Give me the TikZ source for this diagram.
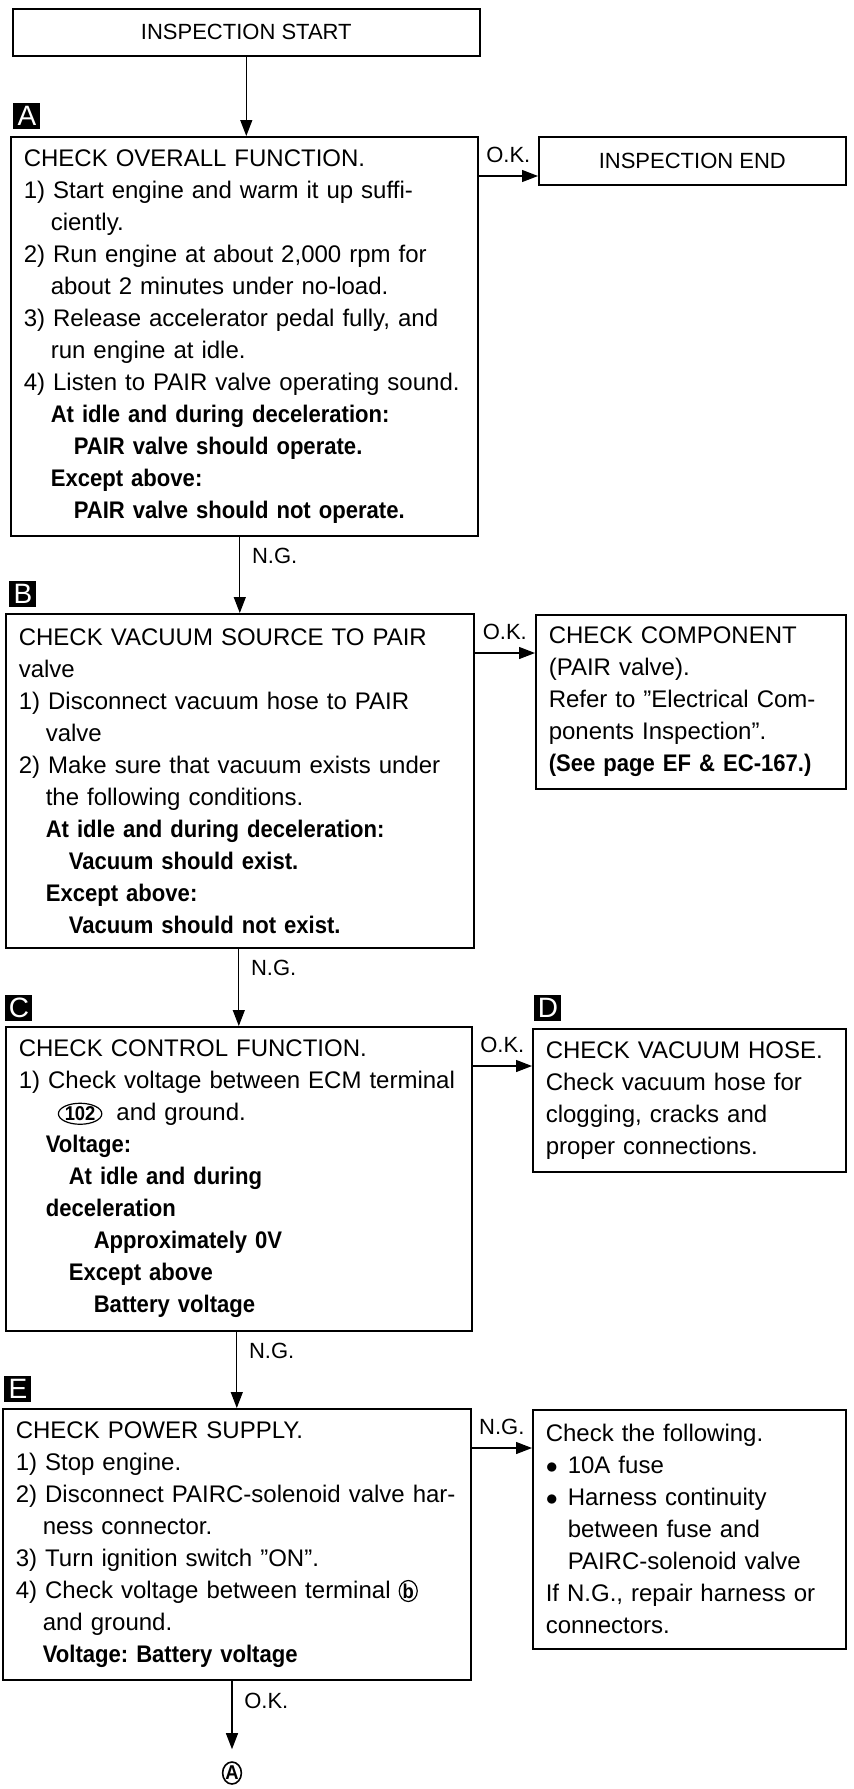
\documentclass[tikz,border=0pt]{standalone}
\usepackage{fontspec}
\setmainfont{Liberation Sans}[BoldFeatures={FakeStretch=0.92}]
\usepackage{tikz}
\usetikzlibrary{arrows.meta, positioning, shapes.geometric}
\frenchspacing

\newcommand{\indA}{\hspace*{13.5pt}}
\newcommand{\indB}{\hspace*{25pt}}
\newcommand{\indC}{\hspace*{37.5pt}}
\newcommand{\pinoval}[2]{\tikz[baseline=(p.base)]\node[draw, ellipse, line width=0.6pt, inner sep=0pt, text width=, align=center, anchor=center, minimum width=#1, minimum height=10.5pt, font=\fontsize{10}{10}\selectfont\bfseries] (p) {#2};}

\begin{document}
\begin{tikzpicture}[x=0.5pt, y=-0.5pt,
        stepbox/.style={draw, line width=0.8pt, anchor=north west, align=left, inner xsep=6.5pt, inner ysep=0pt, font=\fontsize{12}{16}\selectfont},
        termbox/.style={draw, line width=0.8pt, anchor=north west, align=center, inner sep=0pt, font=\fontsize{11}{13}\selectfont},
        tagbox/.style={fill=black, text=white, inner sep=0pt, minimum width=13.5pt, minimum height=13pt, font=\fontsize{14}{14}\selectfont},
        circref/.style={draw, ellipse, line width=0.8pt, inner sep=0pt, minimum width=9pt, minimum height=11pt, font=\fontsize{10}{10}\selectfont\bfseries},
        lbl/.style={font=\fontsize{11}{11}\selectfont},
        arrow/.style={-{Triangle[length=8pt, width=6pt]}, line width=0.6pt}
    ]
    \useasboundingbox (0,0) rectangle (853,1789);

    \node[termbox, minimum width=233.5pt, minimum height=23.5pt] (start) at (12,8) {INSPECTION START};
    \node[stepbox, text width=220.5pt, minimum height=199.5pt] (a) at (10,136) {CHECK OVERALL FUNCTION.\\
        1) Start engine and warm it up suffi-\\
        \indA ciently.\\
        2) Run engine at about 2,000 rpm for\\
        \indA about 2 minutes under no-load.\\
        3) Release accelerator pedal fully, and\\
        \indA run engine at idle.\\
        4) Listen to PAIR valve operating sound.\\
        \indA\textbf{At idle and during deceleration:}\\
        \indB\textbf{PAIR valve should operate.}\\
        \indA\textbf{Except above:}\\
        \indB\textbf{PAIR valve should not operate.}};
    \node[termbox, minimum width=153.5pt, minimum height=24pt] (end) at (538,136) {INSPECTION END};

    \node[stepbox, text width=221pt, minimum height=167pt] (b) at (5,613) {CHECK VACUUM SOURCE TO PAIR\\
        valve\\
        1) Disconnect vacuum hose to PAIR\\
        \indA valve\\
        2) Make sure that vacuum exists under\\
        \indA the following conditions.\\
        \indA\textbf{At idle and during deceleration:}\\
        \indB\textbf{Vacuum should exist.}\\
        \indA\textbf{Except above:}\\
        \indB\textbf{Vacuum should not exist.}};
    \node[stepbox, text width=142pt, minimum height=87pt] (comp) at (535,614) {CHECK COMPONENT\\
        (PAIR valve).\\
        Refer to ''Electrical Com-\\
        ponents Inspection''.\\
        \textbf{(See page EF \& EC-167.)}};

    \node[stepbox, text width=220pt, minimum height=152pt] (c) at (5,1026) {CHECK CONTROL FUNCTION.\\
        1) Check voltage between ECM terminal\\
        \hspace*{19.5pt}\pinoval{21.5pt}{102}\hspace{3pt} and ground.\\
        \indA\textbf{Voltage:}\\
        \indB\textbf{At idle and during}\\
        \indA\textbf{deceleration}\\
        \indC\textbf{Approximately 0V}\\
        \indB\textbf{Except above}\\
        \indC\textbf{Battery voltage}};
    \node[stepbox, text width=143.5pt, minimum height=71.5pt] (d) at (532,1028) {CHECK VACUUM HOSE.\\
        Check vacuum hose for\\
        clogging, cracks and\\
        proper connections.};

    \node[stepbox, text width=221pt, minimum height=135.5pt] (e) at (2,1408) {CHECK POWER SUPPLY.\\
        1) Stop engine.\\
        2) Disconnect PAIRC-solenoid valve har-\\
        \indA ness connector.\\
        3) Turn ignition switch ''ON''.\\
        4) Check voltage between terminal \pinoval{9pt}{b}\\
        \indA and ground.\\
        \indA\textbf{Voltage: Battery voltage}};
    \node[stepbox, text width=143.5pt, minimum height=119.5pt] (f) at (532,1409) {Check the following.\\
        $\bullet$\hspace{5pt}10A fuse\\
        $\bullet$\hspace{5pt}Harness continuity\\
        \hspace*{11pt}between fuse and\\
        \hspace*{11pt}PAIRC-solenoid valve\\
        If N.G., repair harness or\\
        connectors.};
    \node[circref] (ref) at (232,1773) {A};

    \node[tagbox, above right=3.5pt and 1.5pt of a.north west] (tagA) {A};
    \node[tagbox, above right=3pt and 2pt of b.north west] (tagB) {B};
    \node[tagbox, above right=2.5pt and 0pt of c.north west] (tagC) {C};
    \node[tagbox, above right=3.5pt and 1pt of d.north west] (tagD) {D};
    \node[tagbox, above right=3pt and 1pt of e.north west] (tagE) {E};

    \draw[arrow] (start.south) -- (start.south |- a.north);
    \draw[arrow] ([yshift=-20pt]a.north east) -- ([yshift=-20pt]a.north east -| end.west) node[midway, above=3pt, lbl] {O.K.};
    \draw[arrow] (a.south -| b.north) -- (b.north) node[near start, right=2.5pt, lbl] {N.G.};
    \draw[arrow] ([yshift=-20pt]b.north east) -- ([yshift=-20pt]b.north east -| comp.west) node[midway, above=3pt, lbl] {O.K.};
    \draw[arrow] (b.south -| c.north) -- (c.north) node[near start, right=2.5pt, lbl] {N.G.};
    \draw[arrow] ([yshift=-20pt]c.north east) -- ([yshift=-20pt]c.north east -| d.west) node[midway, above=3pt, lbl] {O.K.};
    \draw[arrow] (c.south -| e.north) -- (e.north) node[near start, right=2.5pt, lbl] {N.G.};
    \draw[arrow] ([yshift=-20pt]e.north east) -- ([yshift=-20pt]e.north east -| f.west) node[midway, above=3pt, lbl] {N.G.};
    \draw[arrow, shorten >=6pt] (e.south -| ref.north) -- (ref.north) node[near start, right=2.5pt, lbl] {O.K.};
\end{tikzpicture}
\end{document}
